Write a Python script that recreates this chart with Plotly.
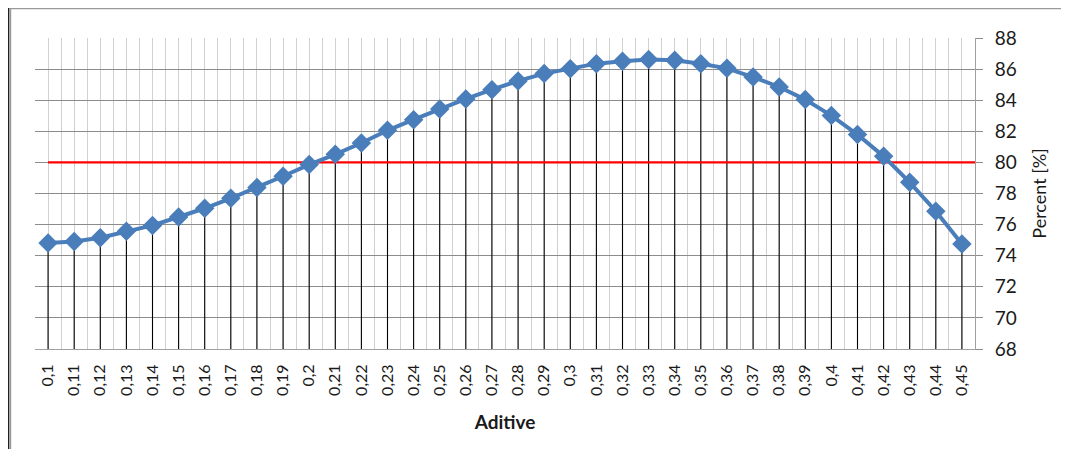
import plotly.graph_objects as go

categories = ["0,1", "0,11", "0,12", "0,13", "0,14", "0,15", "0,16", "0,17", "0,18", "0,19",
              "0,2", "0,21", "0,22", "0,23", "0,24", "0,25", "0,26", "0,27", "0,28", "0,29",
              "0,3", "0,31", "0,32", "0,33", "0,34", "0,35", "0,36", "0,37", "0,38", "0,39",
              "0,4", "0,41", "0,42", "0,43", "0,44", "0,45"]
percent = [74.82, 74.91, 75.16, 75.57, 75.95, 76.49, 77.05, 77.69, 78.38, 79.11,
           79.86, 80.52, 81.25, 82.06, 82.75, 83.43, 84.08, 84.68, 85.24, 85.71,
           86.03, 86.35, 86.50, 86.61, 86.57, 86.35, 86.05, 85.49, 84.85, 84.04,
           83.01, 81.79, 80.39, 78.72, 76.86, 74.75]
threshold = 80
y_min, y_max, y_step = 68, 88, 2
x_title = "Aditive"
y_title = "Percent [%]"

idx = list(range(len(categories)))

# drop lines from each point down to the axis minimum
drop_x, drop_y = [], []
for i, v in zip(idx, percent):
    drop_x += [i, i, None]
    drop_y += [y_min, v, None]

FONT = "Lato"
BLUE = "#4a7ebb"
TEXT = "#1a1a1a"

# figure is placed by the page with an 8px body margin
W, H = 1061, 441
ML, MR, MT, MB = 27, 94, 30, 100
PW, PH = W - ML - MR, H - MT - MB


def px_x(px):
    return (px - ML) / PW


def px_y(py):
    return (H - MB - py) / PH


fig = go.Figure()
fig.add_trace(go.Scatter(x=drop_x, y=drop_y, mode="lines",
                         line=dict(color="#000000", width=1.1), hoverinfo="skip",
                         showlegend=False))
fig.add_trace(go.Scatter(x=[idx[0], idx[-1] + 0.5], y=[threshold, threshold], mode="lines",
                         line=dict(color="#ff0000", width=2.2), showlegend=False))
fig.add_trace(go.Scatter(x=idx, y=percent, mode="lines+markers",
                         line=dict(color=BLUE, width=4),
                         marker=dict(symbol="diamond", size=15, color=BLUE,
                                     line=dict(color=BLUE, width=0)),
                         showlegend=False))

fig.update_layout(
    width=W, height=H,
    margin=dict(l=ML, r=MR, t=MT, b=MB, autoexpand=False),
    paper_bgcolor="white", plot_bgcolor="white",
    font=dict(family=FONT, color=TEXT),
    shapes=[
        dict(type="line", xref="paper", yref="paper", x0=px_x(-1), x1=px_x(W + 5),
             y0=px_y(0.5), y1=px_y(0.5), line=dict(color="#9a9a9a", width=1.5)),
        dict(type="line", xref="paper", yref="paper", x0=px_x(0.2), x1=px_x(0.2),
             y0=px_y(H + 5), y1=px_y(0), line=dict(color="#222222", width=2)),
        dict(type="line", xref="paper", yref="paper", x0=px_x(2.2), x1=px_x(2.2),
             y0=px_y(H + 5), y1=px_y(0), line=dict(color="#9a9a9a", width=2)),
    ],
)

fig.update_xaxes(
    range=[-0.5, len(categories) - 0.5],
    tickmode="array", tickvals=idx, ticktext=categories,
    tickangle=-90, tickfont=dict(size=16, family=FONT, color=TEXT),
    ticks="", ticklabelstandoff=8,
    showgrid=True, gridcolor="#d0d0d0", gridwidth=1,
    minor=dict(tickmode="linear", tick0=-0.5, dtick=1, showgrid=True,
               gridcolor="#d0d0d0", gridwidth=1),
    showline=True, linecolor="#a0a0a0", linewidth=1,
    zeroline=False,
    title=dict(text="<b>" + x_title + "</b>", font=dict(size=19, family=FONT, color=TEXT),
               standoff=20),
)
fig.update_yaxes(
    side="right", range=[y_min, y_max], dtick=y_step, tick0=y_min,
    tickfont=dict(size=19, family=FONT, color=TEXT),
    ticks="outside", ticklen=7, tickcolor="#8c8c8c", ticklabelstandoff=8,
    showgrid=True, gridcolor="#8c8c8c", gridwidth=1,
    showline=True, linecolor="#a0a0a0", linewidth=1,
    zeroline=False,
    title=dict(text=y_title, font=dict(size=18, family=FONT, color=TEXT),
               standoff=17),
)

fig.write_html("out.html")
